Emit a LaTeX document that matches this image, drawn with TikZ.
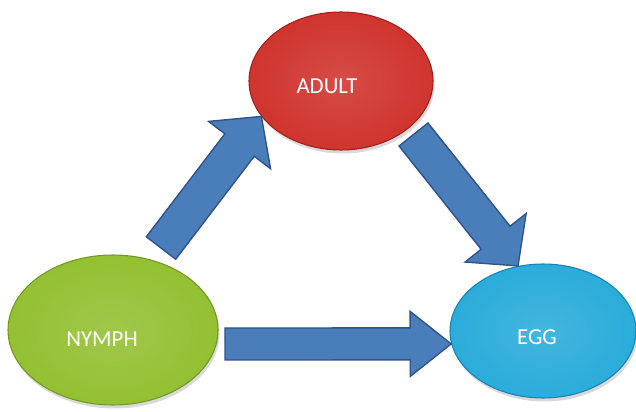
\documentclass[tikz,border=0pt]{standalone}
\usepackage{tkz-euclide}
\usepackage{fontspec}
\setmainfont{Carlito}
\usetikzlibrary{calc,shapes.geometric,shadows}

\definecolor{adultred}{RGB}{208,52,46}
\definecolor{adultdark}{RGB}{160,32,28}
\definecolor{nymphgreen}{RGB}{148,192,50}
\definecolor{nymphdark}{RGB}{114,152,36}
\definecolor{eggblue}{RGB}{42,172,218}
\definecolor{eggdark}{RGB}{22,132,180}
\definecolor{arrowblue}{RGB}{74,126,187}
\definecolor{arrowdark}{RGB}{48,84,138}

% 块状箭头: 起点, 终点, 箭身半宽, 箭头半宽, 箭头长度
\newcommand{\blockarrow}[5]{%
  \coordinate (neck) at ($(#2)!#5!(#1)$);
  \draw[fatarrow] ($(#1)!#3!90:(#2)$) -- ($(neck)!#3!90:(#2)$)
    -- ($(neck)!#4!90:(#2)$) -- (#2) -- ($(neck)!#4!-90:(#2)$)
    -- ($(neck)!#3!-90:(#2)$) -- ($(#1)!#3!-90:(#2)$) -- cycle;}

\begin{document}
\begin{tikzpicture}[
    scale=1.0,
    stage/.style={ellipse, inner sep=0pt, line width=0.6pt,
      drop shadow={shadow xshift=0.03cm, shadow yshift=-0.07cm, opacity=0.3}},
    stagetext/.style={text=white, font=\fontsize{13}{15}\selectfont},
    fatarrow/.style={fill=arrowblue, draw=arrowdark, line width=0.8pt, line join=miter}]
    % 初始化
    \useasboundingbox (0,0) rectangle (12.72,8.22);
    % 定义三个椭圆的中心
    \tkzDefPoints{6.82/6.60/A, 2.26/1.62/N, 10.86/1.60/E}
    % 绘制椭圆
    \node[stage, draw=adultdark, inner color=adultred!88!white, outer color=adultred,
      minimum width=3.68cm, minimum height=2.76cm] (adult) at (A) {};
    \node[stage, draw=nymphdark, inner color=nymphgreen!88!white, outer color=nymphgreen,
      minimum width=4.20cm, minimum height=3.00cm] (nymph) at (N) {};
    \node[stage, draw=eggdark, inner color=eggblue!88!white, outer color=eggblue,
      minimum width=3.72cm, minimum height=2.68cm] (egg) at (E) {};
    % 标记文字
    \node[stagetext] (adulttxt) at (6.54,6.50) {ADULT};
    \node[stagetext] (nymphtxt) at (2.04,1.44) {NYMPH};
    \node[stagetext] (eggtxt) at (10.74,1.48) {EGG};

    % 定义箭头的起点与终点
    \tkzDefPoints{3.22/3.26/T1, 8.27/5.53/T2, 4.50/1.34/T3}
    \coordinate (H1) at (adult.204);
    \coordinate (H2) at (egg.111);
    \coordinate (H3) at (egg.188);
    % 绘制箭头
    \blockarrow{T1}{H1}{0.37cm}{0.78cm}{0.72cm}
    \blockarrow{T2}{H2}{0.37cm}{0.78cm}{0.72cm}
    \blockarrow{T3}{H3}{0.32cm}{0.65cm}{0.82cm}
\end{tikzpicture}
\end{document}
